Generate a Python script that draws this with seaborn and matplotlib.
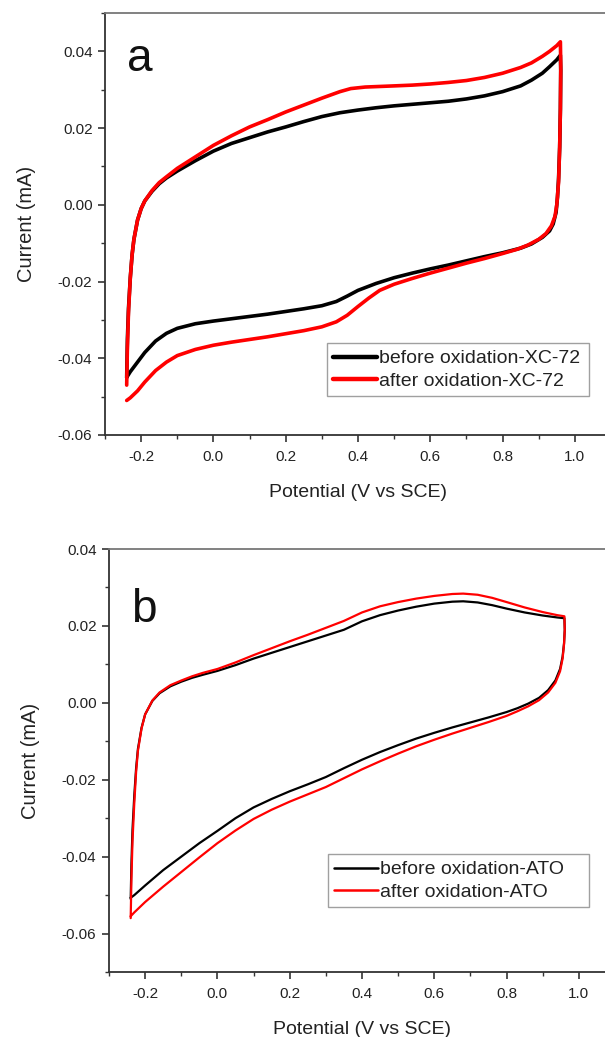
import numpy as np
import pandas as pd
import matplotlib
matplotlib.use("Agg")
import matplotlib.pyplot as plt
import seaborn as sns
from matplotlib.ticker import MultipleLocator, FormatStrFormatter

# ---------------- data ----------------
# Panel a: XC-72, before oxidation (anodic sweep then cathodic sweep)
a_before_x = [-0.24, -0.238, -0.235, -0.23, -0.225, -0.22, -0.21, -0.20, -0.19, -0.17, -0.15, -0.13, -0.10,
              -0.05, 0.00, 0.05, 0.10, 0.15, 0.20, 0.25, 0.30, 0.35, 0.40, 0.45, 0.50, 0.55, 0.60, 0.65,
              0.70, 0.75, 0.80, 0.85, 0.88, 0.91, 0.93, 0.95, 0.96,
              0.961, 0.960, 0.958, 0.955, 0.952, 0.948, 0.94, 0.93, 0.91, 0.88, 0.85,
              0.80, 0.75, 0.70, 0.65, 0.60, 0.55, 0.50, 0.45, 0.40, 0.37, 0.34, 0.30, 0.25, 0.20, 0.15,
              0.10, 0.05, 0.00, -0.05, -0.10, -0.13, -0.16, -0.19, -0.21, -0.23, -0.24]
a_before_y = [-0.045, -0.035, -0.027, -0.019, -0.013, -0.009, -0.004, -0.001, 0.001, 0.0035, 0.0055, 0.007, 0.0088,
              0.0115, 0.014, 0.016, 0.0175, 0.019, 0.0203, 0.0217, 0.023, 0.024, 0.0247, 0.0253, 0.0258, 0.0262, 0.0266, 0.027,
              0.0276, 0.0284, 0.0295, 0.031, 0.0325, 0.0343, 0.036, 0.0378, 0.039,
              0.035, 0.025, 0.015, 0.007, 0.002, -0.002, -0.005, -0.0068, -0.0085, -0.0102, -0.0113,
              -0.0125, -0.0135, -0.0146, -0.0157, -0.0167, -0.0178, -0.019, -0.0205, -0.0223, -0.0238, -0.0252, -0.0263, -0.0271, -0.0278, -0.0285,
              -0.0291, -0.0297, -0.0303, -0.031, -0.0322, -0.0335, -0.0355, -0.0385, -0.041, -0.0435, -0.045]

# Panel a: XC-72, after oxidation
a_after_x = [-0.24, -0.238, -0.235, -0.23, -0.225, -0.22, -0.21, -0.20, -0.19, -0.17, -0.15, -0.13, -0.10,
             -0.05, 0.00, 0.05, 0.10, 0.15, 0.20, 0.25, 0.30, 0.35, 0.38, 0.42, 0.50, 0.55, 0.60, 0.65,
             0.70, 0.75, 0.80, 0.85, 0.88, 0.91, 0.93, 0.95, 0.96,
             0.961, 0.960, 0.958, 0.955, 0.950, 0.945, 0.935, 0.92, 0.90, 0.87, 0.84,
             0.80, 0.75, 0.70, 0.65, 0.60, 0.55, 0.50, 0.46, 0.43, 0.40, 0.37, 0.34, 0.30, 0.25, 0.20, 0.15,
             0.10, 0.05, 0.00, -0.05, -0.10, -0.13, -0.16, -0.19, -0.21, -0.23, -0.24]
a_after_y = [-0.047, -0.037, -0.028, -0.019, -0.013, -0.009, -0.004, -0.001, 0.001, 0.0037, 0.0058, 0.0073, 0.0095,
             0.0125, 0.0155, 0.018, 0.0203, 0.0222, 0.0242, 0.026, 0.0278, 0.0295, 0.0303, 0.0307, 0.031, 0.0312, 0.0315, 0.0319,
             0.0324, 0.0332, 0.0343, 0.0358, 0.037, 0.0387, 0.040, 0.0415, 0.0425,
             0.036, 0.025, 0.015, 0.006, 0.000, -0.003, -0.0055, -0.0075, -0.009, -0.0105, -0.0116,
             -0.0127, -0.014, -0.0152, -0.0165, -0.0178, -0.0192, -0.0207, -0.0223, -0.0243, -0.0265, -0.0288, -0.0305, -0.0318, -0.0328, -0.0336, -0.0344,
             -0.0351, -0.0358, -0.0366, -0.0377, -0.0393, -0.041, -0.0432, -0.0462, -0.0485, -0.0503, -0.051]

# Panel b: ATO, before oxidation
b_before_x = [-0.24, -0.238, -0.235, -0.23, -0.225, -0.22, -0.21, -0.20, -0.18, -0.16, -0.13, -0.10, -0.07,
              -0.04, 0.00, 0.05, 0.10, 0.15, 0.20, 0.25, 0.30, 0.35, 0.40, 0.45, 0.50, 0.55, 0.60, 0.65,
              0.68, 0.72, 0.76, 0.80, 0.85, 0.90, 0.94, 0.96,
              0.961, 0.959, 0.955, 0.948, 0.935, 0.915, 0.89, 0.86, 0.83,
              0.80, 0.75, 0.70, 0.65, 0.60, 0.55, 0.50, 0.45, 0.40, 0.35, 0.30, 0.25, 0.20, 0.15,
              0.10, 0.05, 0.00, -0.05, -0.10, -0.15, -0.20, -0.23, -0.24]
b_before_y = [-0.051, -0.042, -0.033, -0.024, -0.017, -0.012, -0.0065, -0.003, 0.0005, 0.0025, 0.0043, 0.0055, 0.0065,
              0.0073, 0.0083, 0.0098, 0.0115, 0.013, 0.0145, 0.016, 0.0175, 0.019, 0.0212, 0.0228, 0.024, 0.025, 0.0258, 0.0263,
              0.0264, 0.0261, 0.0254, 0.0245, 0.0235, 0.0227, 0.0222, 0.022,
              0.019, 0.0155, 0.012, 0.0088, 0.0058, 0.0033, 0.0013, -0.0002, -0.0014,
              -0.0024, -0.0038, -0.0051, -0.0064, -0.0078, -0.0093, -0.011, -0.0128, -0.0148, -0.017, -0.0193, -0.0212, -0.023, -0.025,
              -0.0272, -0.030, -0.0333, -0.0365, -0.040, -0.0435, -0.0475, -0.050, -0.0507]

# Panel b: ATO, after oxidation
b_after_x = [-0.24, -0.238, -0.235, -0.23, -0.225, -0.22, -0.21, -0.20, -0.18, -0.16, -0.13, -0.10, -0.07,
             -0.04, 0.00, 0.05, 0.10, 0.15, 0.20, 0.25, 0.30, 0.35, 0.40, 0.45, 0.50, 0.55, 0.60, 0.65,
             0.68, 0.72, 0.76, 0.80, 0.85, 0.90, 0.94, 0.96,
             0.961, 0.959, 0.955, 0.948, 0.935, 0.915, 0.89, 0.86, 0.83,
             0.80, 0.75, 0.70, 0.65, 0.60, 0.55, 0.50, 0.45, 0.40, 0.35, 0.30, 0.25, 0.20, 0.15,
             0.10, 0.05, 0.00, -0.05, -0.10, -0.15, -0.20, -0.23, -0.24]
b_after_y = [-0.056, -0.046, -0.036, -0.026, -0.018, -0.0125, -0.0067, -0.003, 0.0006, 0.0027, 0.0046, 0.0058, 0.0069,
             0.0078, 0.0088, 0.0105, 0.0124, 0.0142, 0.016, 0.0177, 0.0195, 0.0213, 0.0235, 0.0251, 0.0262, 0.0271, 0.0278, 0.0283,
             0.0284, 0.0281, 0.0273, 0.0262, 0.0248, 0.0236, 0.0228, 0.0225,
             0.019, 0.0152, 0.0115, 0.0082, 0.0052, 0.0027, 0.0007, -0.0009, -0.0022,
             -0.0034, -0.005, -0.0065, -0.008, -0.0096, -0.0113, -0.0132, -0.0152, -0.0173, -0.0196, -0.0219, -0.0238, -0.0257, -0.0278,
             -0.0302, -0.0332, -0.0365, -0.0402, -0.044, -0.0478, -0.0518, -0.0545, -0.0555]

labels_a = ["before oxidation-XC-72", "after oxidation-XC-72"]
labels_b = ["before oxidation-ATO", "after oxidation-ATO"]
colors = ["#000000", "#ff0000"]

# ---------------- style ----------------
sns.set_style("ticks")
plt.rcParams['font.family'] = ['Liberation Sans', 'DejaVu Sans']
plt.rcParams['lines.solid_joinstyle'] = 'round'
plt.rcParams['lines.solid_capstyle'] = 'round'

W, H = 605, 1037
fig = plt.figure(figsize=(W / 100, H / 100), dpi=100)


def frac_axes(left, top, right, bottom):
    return fig.add_axes([left / W, 1 - bottom / H, (right - left) / W, (bottom - top) / H])


ax_a = frac_axes(105, 13, 611, 435)
ax_b = frac_axes(109, 549, 615, 972)


def make_df(xs, ys, label):
    return pd.DataFrame({"x": xs, "y": ys, "series": label})


def draw(ax, curves, labels, lw, leg_lw, ylim, letter, letter_pos, leg_box):
    for (xs, ys), lab, col in zip(curves, labels, colors):
        df = make_df(xs, ys, lab)
        sns.lineplot(data=df, x="x", y="y", sort=False, estimator=None, ax=ax,
                     color=col, linewidth=lw, label=lab)
    ax.set_xlim(-0.3, 1.1)
    ax.set_ylim(*ylim)
    ax.xaxis.set_major_locator(MultipleLocator(0.2))
    ax.xaxis.set_minor_locator(MultipleLocator(0.1))
    ax.yaxis.set_major_locator(MultipleLocator(0.02))
    ax.yaxis.set_minor_locator(MultipleLocator(0.01))
    ax.xaxis.set_major_formatter(FormatStrFormatter("%.1f"))
    ax.yaxis.set_major_formatter(FormatStrFormatter("%.2f"))
    ax.tick_params(axis="both", which="major", direction="out", length=5, width=1.2,
                   labelsize=11, colors="#333333", labelcolor="#222222")
    ax.tick_params(axis="x", which="major", pad=5.5)
    ax.tick_params(axis="y", which="major", pad=4)
    ax.tick_params(axis="both", which="minor", direction="out", length=2.8, width=1.0, colors="#333333")
    ax.tick_params(top=False, right=False, which="both")
    for s in ["left", "bottom"]:
        ax.spines[s].set_color("#333333")
        ax.spines[s].set_linewidth(1.3)
    ax.spines["top"].set_color("#777777")
    ax.spines["top"].set_linewidth(1.3)
    ax.spines["right"].set_visible(False)
    ax.set_xlabel("Potential (V vs SCE)", fontsize=14, color="#222222", labelpad=15)
    ax.set_ylabel("Current (mA)", fontsize=14.5, color="#222222", labelpad=16)
    ax.text(letter_pos[0], letter_pos[1], letter, transform=ax.transAxes, fontsize=33,
            va="baseline", ha="left", color="#111111")
    x0, y0, x1, y1 = leg_box
    leg = ax.legend(loc="lower left", mode="expand",
                    bbox_to_anchor=(x0 / W, 1 - y1 / H, (x1 - x0) / W, (y1 - y0) / H),
                    bbox_transform=fig.transFigure,
                    borderaxespad=0, fancybox=False, frameon=True, edgecolor="#888888",
                    fontsize=14, handlelength=2.25, handletextpad=0.12, borderpad=0.32,
                    labelspacing=0.25)
    leg.get_frame().set_linewidth(1.0)
    for t in leg.get_texts():
        t.set_color("#222222")
    for h in leg.get_lines():
        h.set_linewidth(leg_lw)


draw(ax_a, [(a_before_x, a_before_y), (a_after_x, a_after_y)], labels_a, 2.6, 3.2,
     (-0.06, 0.05), "a", (0.043, 0.862), (327, 340, 589, 396))
draw(ax_b, [(b_before_x, b_before_y), (b_after_x, b_after_y)], labels_b, 1.6, 1.8,
     (-0.07, 0.04), "b", (0.043, 0.827), (328, 855, 589, 907))

fig.savefig("out.png", dpi=100)
